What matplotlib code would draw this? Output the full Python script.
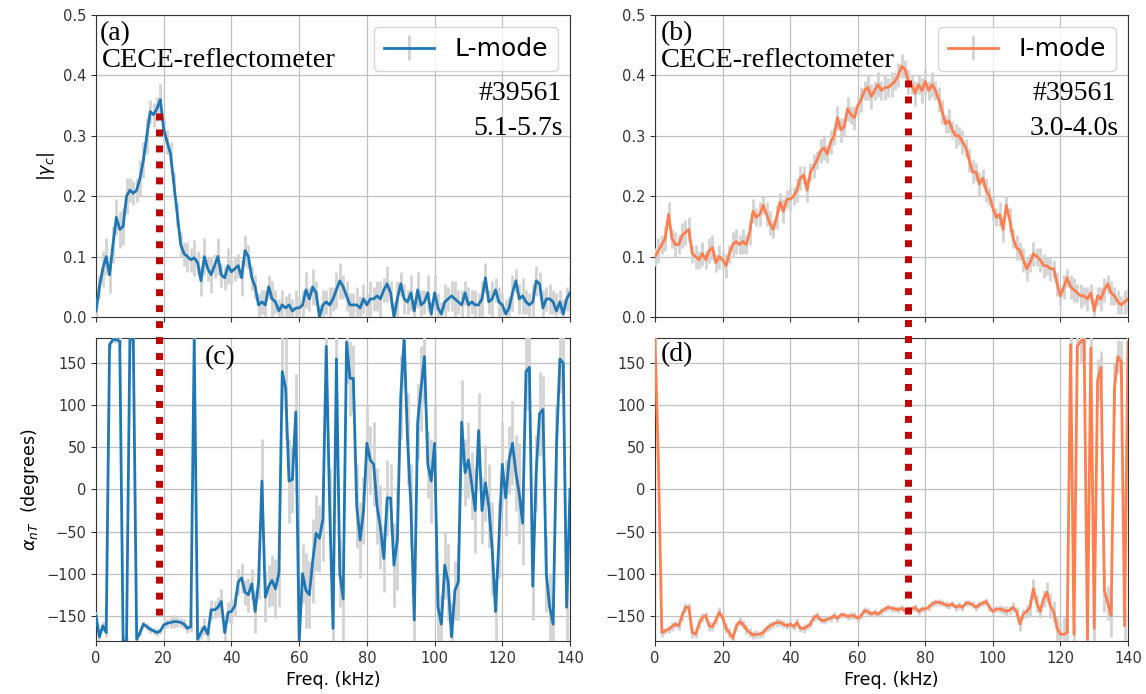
import matplotlib
matplotlib.use("Agg")
import matplotlib.pyplot as plt
import numpy as np
from matplotlib.lines import Line2D

# frequency grid (kHz), 1 kHz steps
freq = np.arange(141)

# (a) L-mode coherence |gamma_c|
coh_l = [0.01, 0.05, 0.08, 0.10, 0.07, 0.12, 0.165, 0.145, 0.15, 0.20,
         0.21, 0.205, 0.21, 0.23, 0.26, 0.30, 0.34, 0.335, 0.345, 0.36,
         0.31, 0.29, 0.27, 0.22, 0.17, 0.12, 0.105, 0.10, 0.095, 0.098,
         0.09, 0.06, 0.10, 0.08, 0.07, 0.085, 0.10, 0.07, 0.065, 0.085,
         0.075, 0.08, 0.085, 0.065, 0.11, 0.10, 0.065, 0.05, 0.02, 0.025,
         0.02, 0.05, 0.03, 0.025, 0.01, 0.02, 0.015, 0.02, 0.01, 0.015,
         0.015, 0.02, 0.045, 0.03, 0.05, 0.04, 0.0, 0.02, 0.025, 0.02,
         0.03, 0.045, 0.06, 0.05, 0.035, 0.02, 0.02, 0.02, 0.015, 0.03,
         0.02, 0.03, 0.03, 0.035, 0.03, 0.045, 0.055, 0.04, 0.0, 0.03,
         0.055, 0.03, 0.025, 0.04, 0.01, 0.045, 0.02, 0.025, 0.04, 0.005,
         0.04, 0.015, 0.005, 0.025, 0.03, 0.035, 0.03, 0.025, 0.02, 0.04,
         0.02, 0.025, 0.02, 0.02, 0.03, 0.065, 0.025, 0.03, 0.045, 0.025,
         0.02, 0.005, 0.015, 0.04, 0.06, 0.03, 0.035, 0.025, 0.02, 0.025,
         0.06, 0.055, 0.015, 0.03, 0.03, 0.025, 0.01, 0.025, 0.005, 0.03,
         0.04]
coh_l_err = [0.02, 0.02, 0.03, 0.03, 0.03, 0.03, 0.03, 0.03, 0.03, 0.03,
             0.02, 0.02, 0.02, 0.03, 0.03, 0.03, 0.02, 0.02, 0.02, 0.025,
             0.02, 0.02, 0.02, 0.02, 0.02, 0.02, 0.02, 0.025, 0.02, 0.03,
             0.02, 0.025, 0.03, 0.02, 0.03, 0.02, 0.03, 0.02, 0.02, 0.03,
             0.02, 0.02, 0.02, 0.03, 0.025, 0.02, 0.02, 0.02, 0.02, 0.02,
             0.025, 0.02, 0.03, 0.02, 0.02, 0.025, 0.02, 0.02, 0.02, 0.03,
             0.02, 0.025, 0.03, 0.02, 0.03, 0.02, 0.02, 0.025, 0.02, 0.03,
             0.02, 0.03, 0.03, 0.02, 0.025, 0.02, 0.02, 0.03, 0.02, 0.025,
             0.02, 0.03, 0.02, 0.025, 0.03, 0.02, 0.03, 0.02, 0.025, 0.03,
             0.02, 0.025, 0.02, 0.03, 0.02, 0.03, 0.025, 0.02, 0.03, 0.02,
             0.03, 0.025, 0.02, 0.03, 0.02, 0.025, 0.03, 0.02, 0.025, 0.02,
             0.03, 0.02, 0.025, 0.02, 0.03, 0.025, 0.02, 0.03, 0.02, 0.025,
             0.02, 0.025, 0.02, 0.03, 0.02, 0.025, 0.03, 0.02, 0.02, 0.03,
             0.025, 0.02, 0.03, 0.02, 0.025, 0.02, 0.03, 0.02, 0.025, 0.02,
             0.03]

# (b) I-mode coherence |gamma_c|
coh_i = [0.10, 0.11, 0.12, 0.13, 0.17, 0.13, 0.12, 0.12, 0.135, 0.14,
         0.145, 0.105, 0.10, 0.095, 0.105, 0.095, 0.11, 0.115, 0.09, 0.10,
         0.095, 0.085, 0.105, 0.12, 0.125, 0.12, 0.125, 0.12, 0.14, 0.175,
         0.165, 0.17, 0.185, 0.17, 0.155, 0.145, 0.165, 0.19, 0.175, 0.195,
         0.195, 0.20, 0.21, 0.23, 0.235, 0.21, 0.24, 0.25, 0.26, 0.275,
         0.28, 0.27, 0.29, 0.30, 0.33, 0.31, 0.315, 0.345, 0.335, 0.33,
         0.35, 0.36, 0.375, 0.38, 0.365, 0.375, 0.385, 0.375, 0.38, 0.38,
         0.385, 0.39, 0.40, 0.415, 0.41, 0.39, 0.385, 0.37, 0.385, 0.375,
         0.39, 0.375, 0.385, 0.375, 0.36, 0.34, 0.32, 0.325, 0.31, 0.30,
         0.30, 0.29, 0.28, 0.26, 0.24, 0.24, 0.22, 0.23, 0.21, 0.20,
         0.18, 0.165, 0.17, 0.145, 0.185, 0.16, 0.13, 0.115, 0.11, 0.095,
         0.08, 0.09, 0.105, 0.10, 0.095, 0.085, 0.085, 0.08, 0.08, 0.055,
         0.035, 0.05, 0.065, 0.05, 0.045, 0.04, 0.035, 0.035, 0.03, 0.04,
         0.01, 0.035, 0.03, 0.045, 0.055, 0.04, 0.035, 0.025, 0.02, 0.025,
         0.03]
coh_i_err = [0.015, 0.02, 0.015, 0.02, 0.02, 0.015, 0.02, 0.015, 0.02, 0.02,
             0.02, 0.015, 0.02, 0.015, 0.02, 0.015, 0.02, 0.02, 0.015, 0.02,
             0.015, 0.02, 0.015, 0.02, 0.02, 0.015, 0.02, 0.015, 0.02, 0.02,
             0.015, 0.02, 0.015, 0.02, 0.02, 0.015, 0.02, 0.015, 0.02, 0.015,
             0.02, 0.015, 0.02, 0.02, 0.015, 0.02, 0.015, 0.02, 0.015, 0.02,
             0.02, 0.015, 0.02, 0.015, 0.02, 0.02, 0.015, 0.02, 0.015, 0.02,
             0.015, 0.02, 0.015, 0.02, 0.02, 0.015, 0.02, 0.015, 0.02, 0.015,
             0.02, 0.015, 0.02, 0.02, 0.015, 0.02, 0.015, 0.02, 0.015, 0.02,
             0.02, 0.015, 0.02, 0.015, 0.02, 0.02, 0.015, 0.02, 0.015, 0.02,
             0.015, 0.02, 0.015, 0.02, 0.02, 0.015, 0.02, 0.015, 0.02, 0.015,
             0.02, 0.015, 0.02, 0.02, 0.015, 0.02, 0.015, 0.02, 0.015, 0.02,
             0.02, 0.015, 0.02, 0.015, 0.02, 0.02, 0.015, 0.02, 0.015, 0.02,
             0.015, 0.02, 0.015, 0.02, 0.02, 0.015, 0.02, 0.015, 0.02, 0.015,
             0.02, 0.015, 0.02, 0.02, 0.015, 0.02, 0.015, 0.02, 0.015, 0.02,
             0.02]

# (c) L-mode cross-phase alpha_nT (degrees)
phase_l = [-150, -175, -162, -170, 172, 178, 178, 176, -180, -180,
           178, 180, -178, -170, -160, -163, -166, -168, -170, -168,
           -161, -159, -158, -157, -157, -158, -160, -165, -163, 178,
           -178, -170, -163, -172, -143, -143, -140, -133, -170, -146,
           -145, -138, -110, -105, -122, -125, -112, -145, -110, 10,
           -128, -115, -108, -118, -100, 140, 120, 10, 12, 92,
           -180, -100, -120, -125, -85, -52, -58, -35, 170, -20,
           -165, 155, -100, -130, 175, 132, 132, -20, -60, -25,
           55, 35, 30, -20, -45, -82, -10, -10, -90, -60,
           110, 180, 60, -20, -155, 80, 120, 158, 30, 10,
           55, -140, -160, -90, -110, -175, -120, -110, 80, 20,
           35, 5, -25, 70, -25, 8, -20, -70, -145, -60,
           30, -10, 35, 55, 20, -5, -40, 140, 145, -115,
           20, 90, 95, -100, -140, -160, 50, 155, 150, -140,
           0]
phase_l_err = [5, 5, 6, 5, 5, 4, 4, 5, 5, 5,
               5, 5, 5, 4, 4, 4, 4, 4, 4, 4,
               4, 5, 6, 8, 6, 5, 6, 5, 6, 5,
               6, 8, 10, 8, 12, 10, 12, 15, 10, 12,
               15, 12, 15, 18, 15, 20, 18, 25, 20, 50,
               30, 25, 30, 35, 40, 45, 60, 50, 40, 45,
               40, 35, 45, 40, 50, 45, 40, 50, 60, 45,
               50, 45, 40, 60, 50, 45, 40, 50, 45, 40,
               45, 40, 50, 45, 50, 40, 45, 40, 50, 60,
               50, 60, 55, 50, 60, 45, 50, 55, 40, 50,
               45, 40, 35, 40, 45, 40, 35, 45, 50, 40,
               45, 40, 50, 45, 40, 45, 50, 55, 40, 45,
               50, 45, 40, 50, 45, 60, 50, 45, 50, 40,
               45, 50, 40, 45, 40, 35, 50, 40, 45, 50,
               40]

# (d) I-mode cross-phase alpha_nT (degrees)
phase_i = [178, 30, -170, -168, -166, -163, -160, -162, -150, -140,
           -140, -170, -172, -160, -152, -150, -162, -163, -155, -146,
           -152, -165, -170, -177, -163, -157, -160, -166, -170, -173,
           -172, -172, -170, -165, -162, -160, -158, -158, -160, -162,
           -160, -163, -158, -165, -165, -163, -160, -152, -150, -155,
           -156, -154, -153, -150, -153, -149, -149, -151, -150, -150,
           -153, -150, -144, -145, -148, -146, -148, -145, -142, -140,
           -141, -142, -143, -141, -144, -142, -142, -140, -145, -142,
           -142, -140, -136, -134, -134, -135, -137, -138, -136, -140,
           -138, -140, -135, -135, -137, -140, -137, -135, -133, -140,
           -145, -142, -142, -143, -145, -143, -140, -145, -160, -148,
           -145, -140, -118, -135, -145, -130, -122, -138, -145, -165,
           -172, -172, -170, 172, -172, 170, 176, 178, -178, 168,
           -165, 130, 145, -120, -135, -150, 120, 158, 152, -162,
           175]
phase_i_err = [5, 5, 5, 4, 4, 5, 4, 5, 6, 5,
               5, 6, 5, 6, 5, 5, 6, 5, 5, 6,
               5, 6, 5, 6, 5, 5, 5, 6, 5, 5,
               5, 4, 5, 4, 5, 4, 5, 4, 5, 4,
               5, 4, 5, 4, 5, 4, 5, 4, 5, 4,
               4, 4, 4, 4, 4, 4, 4, 4, 4, 4,
               4, 4, 4, 4, 4, 4, 4, 4, 4, 4,
               4, 4, 4, 4, 4, 4, 4, 4, 4, 4,
               4, 4, 4, 4, 4, 4, 4, 4, 4, 4,
               4, 4, 4, 4, 4, 4, 4, 4, 4, 4,
               5, 4, 5, 5, 6, 5, 6, 5, 8, 6,
               8, 10, 12, 10, 8, 10, 12, 15, 12, 15,
               15, 20, 15, 20, 15, 20, 25, 20, 20, 25,
               20, 25, 20, 25, 20, 25, 30, 20, 25, 20,
               20]

peak_l = 18.6   # kHz, marked in (a)/(c)
peak_i = 74.8   # kHz, marked in (b)/(d)

blue = "#1f77b4"
coral = "#ff7f50"
grey = "#d3d3d3"
red = "#c00000"
serif = ["Liberation Serif", "DejaVu Serif"]

plt.rcParams["font.family"] = "DejaVu Sans"
plt.rcParams["axes.edgecolor"] = "0.2"
plt.rcParams["xtick.color"] = "0.2"
plt.rcParams["ytick.color"] = "0.2"

fig = plt.figure(figsize=(11.46, 6.94), dpi=100)

left_x, right_x = 0.0838, 0.5716
top_y, bot_y = 0.5432, 0.0764
ax_a = fig.add_axes([left_x, top_y, 0.4136, 0.4352])
ax_b = fig.add_axes([right_x, top_y, 0.4127, 0.4352])
ax_c = fig.add_axes([left_x, bot_y, 0.4136, 0.4366])
ax_d = fig.add_axes([right_x, bot_y, 0.4127, 0.4366])


def draw(ax, y, err, color, label=None):
    ax.errorbar(freq, y, yerr=err, color=color, ecolor=grey, elinewidth=2,
                lw=2, label=label, zorder=3)
    ax.set_xlim(0, 140)
    ax.set_xticks(np.arange(0, 141, 20))
    ax.grid(True, color="#c0c0c0", lw=0.9)
    ax.set_axisbelow(True)
    ax.tick_params(labelsize=10.5)


draw(ax_a, coh_l, coh_l_err, blue, "L-mode")
draw(ax_b, coh_i, coh_i_err, coral, "I-mode")
draw(ax_c, phase_l, phase_l_err, blue)
draw(ax_d, phase_i, phase_i_err, coral)

for ax in (ax_a, ax_b):
    ax.set_ylim(0, 0.5)
    ax.tick_params(labelbottom=False)
    ax.legend(loc="upper right", fontsize=18)
for ax in (ax_c, ax_d):
    ax.set_ylim(-180, 180)
    ax.set_yticks(np.arange(-150, 151, 50))
    ax.set_xlabel("Freq. (kHz)", fontsize=12.5)

ax_a.set_ylabel(r"$|\gamma_c|$", fontsize=12.5)
ax_c.set_ylabel(r"$\alpha_{nT}$  (degrees)", fontsize=12.5)

# panel annotations
ax_a.text(0.008, 0.94, "(a)", transform=ax_a.transAxes, family=serif, fontsize=20, va="center")
ax_a.text(0.012, 0.85, "CECE-reflectometer", transform=ax_a.transAxes, family=serif, fontsize=20.5, va="center")
ax_a.text(0.983, 0.74, "#39561", transform=ax_a.transAxes, family=serif, fontsize=20, va="center", ha="right")
ax_a.text(0.985, 0.625, "5.1-5.7s", transform=ax_a.transAxes, family=serif, fontsize=20, va="center", ha="right")

ax_b.text(0.013, 0.94, "(b)", transform=ax_b.transAxes, family=serif, fontsize=20, va="center")
ax_b.text(0.013, 0.85, "CECE-reflectometer", transform=ax_b.transAxes, family=serif, fontsize=20.5, va="center")
ax_b.text(0.975, 0.74, "#39561", transform=ax_b.transAxes, family=serif, fontsize=20, va="center", ha="right")
ax_b.text(0.98, 0.625, "3.0-4.0s", transform=ax_b.transAxes, family=serif, fontsize=20, va="center", ha="right")

ax_c.text(0.23, 0.935, "(c)", transform=ax_c.transAxes, family=serif, fontsize=20, va="center")
ax_d.text(0.013, 0.945, "(d)", transform=ax_d.transAxes, family=serif, fontsize=20, va="center")


# red dotted marker spanning the upper and lower panel
def span_line(ax_top, ax_bot, x, y_top, y_bot):
    inv = fig.transFigure.inverted()
    p1 = inv.transform(ax_top.transData.transform((x, y_top)))
    p2 = inv.transform(ax_bot.transData.transform((x, y_bot)))
    ln = Line2D([p1[0], p2[0]], [p1[1], p2[1]], transform=fig.transFigure,
                color=red, lw=5, linestyle=(0, (1, 1.3)), dash_capstyle="butt",
                zorder=10)
    fig.add_artist(ln)


span_line(ax_a, ax_c, peak_l, 0.338, -154)
span_line(ax_b, ax_d, peak_i, 0.392, -154)

fig.savefig("out.png", dpi=100)
